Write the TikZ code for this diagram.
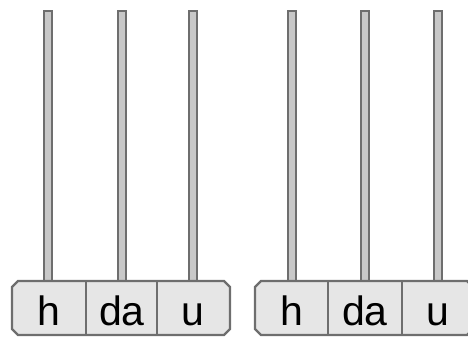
\documentclass[tikz,border=0pt]{standalone}
\usepackage{fontspec}
\setmainfont{Liberation Sans}
\definecolor{framegray}{HTML}{E6E6E6}
\definecolor{edgegray}{HTML}{6E6E6E}
\definecolor{rodgray}{HTML}{C8C8C8}
\begin{document}
\begin{tikzpicture}[x=0.5pt,y=-0.5pt,
    rod/.style={fill=rodgray,draw=edgegray,line width=0.9pt},
    frame/.style={fill=framegray,draw=edgegray,line width=1.1pt},
    sep/.style={draw=edgegray,line width=1.1pt},
    digit/.style={font=\fontsize{20.5}{24}\selectfont,inner sep=0pt,anchor=base}]
                \clip (0,0) rectangle (468,338) ;
                % rods
                \draw [rod] (44,11) rectangle (52,283) ;
                \draw [rod] (118,11) rectangle (126,283) ;
                \draw [rod] (189,11) rectangle (197,283) ;
                \draw [rod] (288,11) rectangle (296,283) ;
                \draw [rod] (361,11) rectangle (369,283) ;
                \draw [rod] (434,11) rectangle (442,283) ;
                % left frame
                \draw [frame] (12,287) -- (18,281) -- (224,281) -- (230,287) -- (230,329) -- (224,335) -- (18,335) -- (12,329) -- cycle ;
                \draw [sep] (86,281) -- (86,335) ;
                \draw [sep] (157,281) -- (157,335) ;
                \node [digit] (h1) at (49,325) {h} ;
                \node [digit] (da1) at (122,325) {da} ;
                \node [digit] (u1) at (193,325) {u} ;
                % right frame
                \draw [frame] (255,287) -- (261,281) -- (467,281) -- (473,287) -- (473,329) -- (467,335) -- (261,335) -- (255,329) -- cycle ;
                \draw [sep] (328,281) -- (328,335) ;
                \draw [sep] (402,281) -- (402,335) ;
                \node [digit] (h2) at (292,325) {h} ;
                \node [digit] (da2) at (365,325) {da} ;
                \node [digit] (u2) at (438,325) {u} ;
\end{tikzpicture}
\end{document}
